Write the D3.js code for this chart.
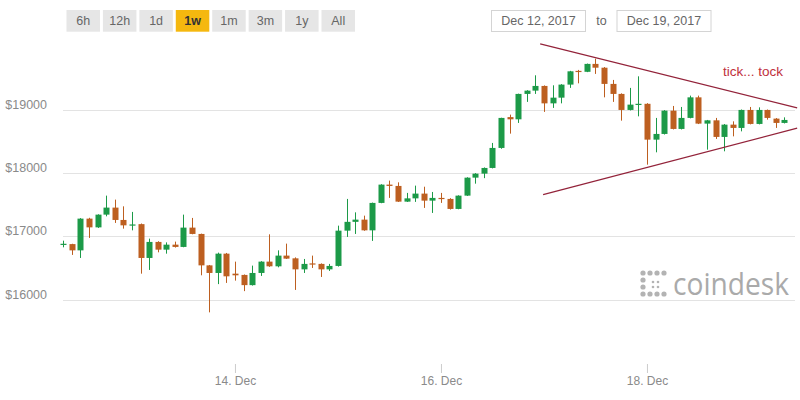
<!DOCTYPE html>
<html><head><meta charset="utf-8">
<script src="https://cdn.jsdelivr.net/npm/d3@7"></script>
<style>html,body{margin:0;padding:0;background:#fff;}svg{display:block;font-family:"Liberation Sans",Arial,sans-serif;}</style>
</head><body>
<svg id="c" width="800" height="400"></svg>
<script>
const rangeButtons = ["6h","12h","1d","1w","1m","3m","1y","All"];
const selectedRange = "1w";
const fromDate = "Dec 12, 2017";
const toDate = "Dec 19, 2017";
const yTicks = [16000,17000,18000,19000];
const xTickDates = [Date.UTC(2017,11,14), Date.UTC(2017,11,16), Date.UTC(2017,11,18)];
const startTime = Date.UTC(2017,11,12,8);
const periodHours = 2;
const opens  = [16870,16875,16776,17277,17139,17340,17451,17256,17171,17190,16656,16909,16787,16866,16830,17135,17035,16539,16419,16724,16408,16388,16227,16419,16598,16524,16693,16650,16476,16570,16562,16476,16530,17087,17226,17261,17092,17525,17814,17793,17545,17597,17672,17561,17604,17588,17430,17640,17924,17987,18077,18393,18880,18845,19246,19298,19372,19097,19187,19393,19610,19595,19720,19660,19404,19246,18993,19077,19090,18524,18614,18982,18693,18867,19192,18777,18829,18567,18761,18709,18993,18772,18993,18856,18788];
const highs  = [16929,16880,17285,17290,17345,17640,17577,17471,17383,17200,16961,16920,16902,16914,17340,17288,17040,16545,16740,16735,16598,16395,16535,16605,17029,16776,16882,16665,16640,16693,16570,16562,17166,17588,17376,17324,17530,17820,17877,17850,17683,17798,17781,17698,17683,17600,17645,17930,17995,18085,18472,18870,18919,19250,19305,19540,19380,19382,19400,19610,19625,19725,19803,19670,19467,19255,19341,19524,19100,18867,18990,19056,19040,19219,19219,18835,18867,18770,18813,19000,19040,19034,19000,18865,18876];
const lows   = [16824,16704,16656,16972,17130,17313,17209,17119,17092,16408,16467,16745,16724,16820,16825,17030,16382,15797,16243,16262,16298,16132,16220,16372,16515,16508,16640,16151,16419,16498,16356,16451,16520,16988,17035,17085,16925,17520,17604,17540,17540,17541,17446,17367,17525,17420,17425,17635,17829,17916,18070,18380,18619,18788,19120,19246,18962,19025,19097,19341,19413,19590,19562,19192,19120,18824,18985,18892,18129,18324,18605,18685,18685,18860,18770,18366,18535,18340,18576,18655,18765,18765,18840,18709,18780];
const closes = [16880,16776,17277,17139,17340,17451,17256,17171,17185,16656,16909,16787,16866,16830,17135,17035,16539,16419,16724,16366,16382,16227,16419,16598,16524,16693,16645,16476,16562,16560,16476,16530,17087,17226,17261,17092,17525,17814,17793,17545,17597,17672,17561,17604,17588,17430,17640,17924,17987,18077,18393,18867,18845,19246,19298,19372,19097,19187,19393,19603,19595,19720,19660,19404,19246,18993,19077,19090,18524,18614,18982,18693,18867,19192,18777,18829,18567,18761,18709,18993,18772,18993,18867,18788,18835];
const upperTrend = [{t: Date.UTC(2017,11,16,23,7), p: 20037}, {t: Date.UTC(2017,11,19,11,0), p: 19025}];
const lowerTrend = [{t: Date.UTC(2017,11,16,23,48), p: 17656}, {t: Date.UTC(2017,11,19,11,0), p: 18706}];
const annotationText = "tick... tock";
const brandText = "coindesk";

const svg = d3.select("#c");
const x = d3.scaleUtc().domain([startTime, Date.UTC(2017,11,19,8)]).range([63.3, 784.3]);
const y = d3.scaleLinear().domain([16000,19000]).range([299.5,109.5]);

// toolbar
const bx = d3.scaleBand().domain(rangeButtons).range([66.5, 355]).paddingInner(0.08).paddingOuter(0);
const btn = svg.append("g").selectAll("g").data(rangeButtons).join("g");
btn.append("rect").attr("x", d=>bx(d)).attr("y",10).attr("width",bx.bandwidth()).attr("height",21.7)
  .attr("fill", d=> d===selectedRange ? "#f5b80f" : "#e6e6e6");
btn.append("text").attr("x", d=>bx(d)+bx.bandwidth()/2).attr("y",24.5).attr("text-anchor","middle")
  .attr("font-size",12.5).attr("fill", d=> d===selectedRange ? "#333" : "#666")
  .attr("font-weight", d=> d===selectedRange ? "bold" : "normal").text(d=>d);

// date inputs
const boxes = [{x:491,w:94,t:fromDate},{x:616.5,w:94,t:toDate}];
svg.append("g").selectAll("rect").data(boxes).join("rect")
  .attr("x",d=>d.x+0.5).attr("y",10.5).attr("width",d=>d.w).attr("height",21).attr("fill","#fff").attr("stroke","#d4d4d4");
svg.append("g").selectAll("text").data(boxes).join("text")
  .attr("x",d=>d.x+d.w/2+0.5).attr("y",24.5).attr("text-anchor","middle").attr("font-size",12.5).attr("fill","#666").text(d=>d.t);
svg.append("text").attr("x",601.5).attr("y",24.5).attr("text-anchor","middle").attr("font-size",12.5).attr("fill","#666").text("to");

// grid + y labels
const grid = svg.append("g");
grid.selectAll("line").data(yTicks).join("line")
  .attr("x1",63).attr("x2",795).attr("y1",d=>Math.round(y(d))+0.5).attr("y2",d=>Math.round(y(d))+0.5)
  .attr("stroke","#e3e3e3").attr("stroke-width",1);
grid.selectAll("text").data(yTicks).join("text")
  .attr("x",47).attr("y",d=>y(d)-1).attr("text-anchor","end").attr("font-size",12.5).attr("fill","#8a8a8a")
  .text(d=>"$"+d);

// x axis
const xa = svg.append("g").attr("transform","translate(0,364)")
  .call(d3.axisBottom(x).tickValues(xTickDates).tickFormat(d3.utcFormat("%d. %b")).tickSize(9).tickPadding(3));
xa.select(".domain").remove();
xa.selectAll(".tick line").attr("stroke","#ccc");
xa.selectAll(".tick text").attr("fill","#8a8a8a").attr("font-size",12).attr("font-family","Liberation Sans, Arial, sans-serif");

// logo
const logo = svg.append("g").attr("fill","#b3b3b3");
const dots = [[643,273,2.6],[650,273,2.6],[657,273,2.6],[664,273,2.6],[643,280,2.6],[643,287,2.6],[643,294,2.6],[650,294,2.6],[657,294,2.6],[664,294,2.6],[653,282,1.3],[658,282,1.3],[653,287,1.3],[658,287,1.3]];
logo.selectAll("circle").data(dots).join("circle").attr("cx",d=>d[0]).attr("cy",d=>d[1]).attr("r",d=>d[2]);
logo.append("text").attr("x",673).attr("y",295).attr("font-size",31).attr("textLength",116).attr("lengthAdjust","spacingAndGlyphs")
  .attr("font-family","'Open Sans', 'DejaVu Sans', sans-serif").attr("fill","#aaaaaa").text(brandText);

// candles
const idx = d3.range(opens.length);
const tOf = i => startTime + i*periodHours*3600*1000;
const up = "#1c9a48", down = "#bd5f20";
const cg = svg.append("g");
const cand = cg.selectAll("g").data(idx).join("g");
cand.append("line")
  .attr("x1",i=>Math.round(x(tOf(i)))+0.5).attr("x2",i=>Math.round(x(tOf(i)))+0.5)
  .attr("y1",i=>y(highs[i])).attr("y2",i=>y(lows[i]))
  .attr("stroke",i=>closes[i]>=opens[i]?up:down).attr("stroke-width",1);
cand.append("rect")
  .attr("x",i=>Math.round(x(tOf(i)))-2.5).attr("width",6)
  .attr("y",i=>y(Math.max(opens[i],closes[i])))
  .attr("height",i=>Math.max(1.2, Math.abs(y(opens[i])-y(closes[i]))))
  .attr("fill",i=>closes[i]>=opens[i]?up:down);

// trend lines
const tl = d3.line().x(d=>x(d.t)).y(d=>y(d.p));
[upperTrend, lowerTrend].forEach(dta=>{
  svg.append("path").attr("d",tl(dta)).attr("fill","none").attr("stroke","#93233a").attr("stroke-width",1.2);
});
svg.append("text").attr("x",723).attr("y",76).attr("font-size",13.5).attr("fill","#c0303c").text(annotationText);
</script>
</body></html>
